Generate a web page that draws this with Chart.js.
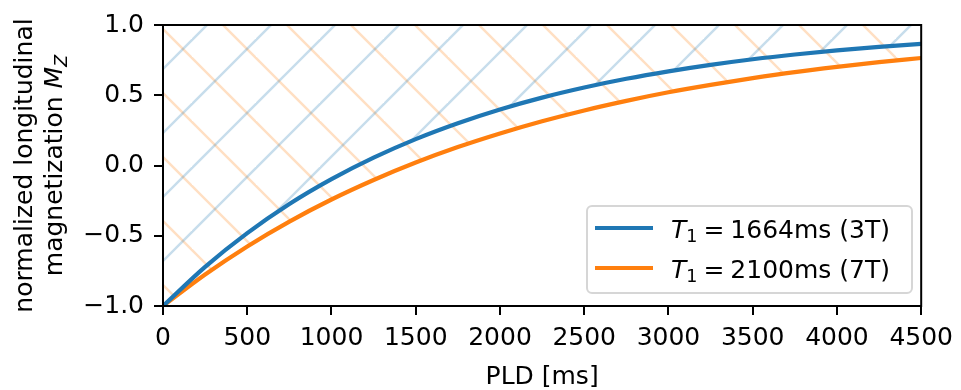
<!DOCTYPE html>
<html>
<head>
<meta charset="utf-8">
<script src="https://cdn.jsdelivr.net/npm/chart.js@4"></script>
<style>
  html, body { margin: 0; padding: 0; background: #fff; }
  #wrap { width: 961px; height: 390px; }
</style>
</head>
<body>
<div id="wrap"><canvas id="mzChart" width="961" height="390"></canvas></div>
<script>
// post-labeling delay [ms]
const pld = [0, 250, 500, 750, 1000, 1250, 1500, 1750, 2000, 2250, 2500,
             2750, 3000, 3250, 3500, 3750, 4000, 4250, 4500];
// normalized Mz recovery at 3T (T1 = 1664 ms)
const mz3T = [-1.0, -0.721, -0.481, -0.274, -0.097, 0.056, 0.188, 0.301, 0.399, 0.483,
              0.555, 0.617, 0.670, 0.716, 0.756, 0.790, 0.819, 0.844, 0.866];
// normalized Mz recovery at 7T (T1 = 2100 ms)
const mz7T = [-1.0, -0.776, -0.576, -0.399, -0.242, -0.103, 0.021, 0.131, 0.228, 0.315,
              0.392, 0.460, 0.521, 0.574, 0.622, 0.665, 0.702, 0.736, 0.765];
const seriesLabels = [["1664", "3T"], ["2100", "7T"]];
const xTicks = [0, 500, 1000, 1500, 2000, 2500, 3000, 3500, 4000, 4500];
const yTicks = [-1.0, -0.5, 0.0, 0.5, 1.0];

const BLUE = '#1f77b4';
const ORANGE = '#ff7f0e';
const FONT = '"DejaVu Sans", "Liberation Sans", sans-serif';

// diagonal hatch tile, dir = 1 for '/', -1 for '\'
function hatch(color, dir, phase) {
  const s = 64;
  const c = document.createElement('canvas');
  c.width = s; c.height = s;
  const g = c.getContext('2d');
  g.strokeStyle = color;
  g.lineWidth = 2.4;
  for (let k = -2; k <= 2; k++) {
    const o = phase + k * s;
    g.beginPath();
    if (dir > 0) { g.moveTo(o + 20, -20); g.lineTo(o - s - 20, s + 20); }
    else { g.moveTo(o - 20, -20); g.lineTo(o + s + 20, s + 20); }
    g.stroke();
  }
  return g.createPattern(c, 'repeat');
}
const blueHatch = hatch('rgba(31,119,180,0.25)', 1, 40);
const orangeHatch = hatch('rgba(255,127,14,0.25)', -1, 6);

// frame, axis titles and legend drawn on top
const decor = {
  id: 'decor',
  afterDraw(chart) {
    const ctx = chart.ctx;
    const a = chart.chartArea;
    ctx.save();
    ctx.strokeStyle = '#000';
    ctx.lineWidth = 2;
    ctx.strokeRect(a.left, a.top, a.right - a.left, a.bottom - a.top);

    ctx.fillStyle = '#000';
    ctx.textBaseline = 'alphabetic';

    // x title
    ctx.font = '25px ' + FONT;
    ctx.textAlign = 'center';
    ctx.fillText('PLD [ms]', (a.left + a.right) / 2, 384);

    // y title, two lines
    const cy = (a.top + a.bottom) / 2;
    ctx.save();
    ctx.translate(32, cy);
    ctx.rotate(-Math.PI / 2);
    ctx.fillText('normalized longitudinal', 0, 0);
    ctx.restore();

    ctx.save();
    ctx.translate(62, cy);
    ctx.rotate(-Math.PI / 2);
    ctx.textAlign = 'left';
    const t1 = 'magnetization ';
    ctx.font = '25px ' + FONT;
    const w1 = ctx.measureText(t1).width;
    ctx.font = 'italic 25px ' + FONT;
    const w2 = ctx.measureText('M').width;
    ctx.font = 'italic 17.5px ' + FONT;
    const w3 = ctx.measureText('Z').width;
    let x = -(w1 + w2 + w3) / 2;
    ctx.font = '25px ' + FONT;
    ctx.fillText(t1, x, 0); x += w1;
    ctx.font = 'italic 25px ' + FONT;
    ctx.fillText('M', x, 0); x += w2;
    ctx.font = 'italic 17.5px ' + FONT;
    ctx.fillText('Z', x, 5);
    ctx.restore();

    // legend
    const lx = 587, ly = 206, lw = 325, lh = 87;
    ctx.beginPath();
    ctx.roundRect(lx, ly, lw, lh, 5);
    ctx.fillStyle = 'rgba(255,255,255,0.8)';
    ctx.fill();
    ctx.strokeStyle = '#d6d6d6';
    ctx.lineWidth = 2;
    ctx.stroke();

    chart.data.datasets.forEach((ds, i) => {
      const y = 228 + i * 40;
      ctx.strokeStyle = ds.borderColor;
      ctx.lineWidth = 4.2;
      ctx.beginPath();
      ctx.moveTo(595, y);
      ctx.lineTo(653, y);
      ctx.stroke();

      const [ms, field] = seriesLabels[i];
      const base = y + 10;
      let tx = 671;
      ctx.fillStyle = '#000';
      ctx.textAlign = 'left';
      ctx.font = 'italic 25px ' + FONT;
      ctx.fillText('T', tx, base);
      tx += ctx.measureText('T').width;
      ctx.font = '17.5px ' + FONT;
      ctx.fillText('1', tx, base + 4);
      tx += ctx.measureText('1').width + 6;
      ctx.font = '25px ' + FONT;
      ctx.fillText('=', tx, base);
      tx += ctx.measureText('=').width + 6;
      ctx.fillText(ms + 'ms (' + field + ')', tx, base);
    });
    ctx.restore();
  }
};

new Chart(document.getElementById('mzChart').getContext('2d'), {
  type: 'line',
  data: {
    labels: pld,
    datasets: [
      {
        label: 'T1 = 1664ms (3T)',
        data: pld.map((t, i) => ({ x: t, y: mz3T[i] })),
        borderColor: BLUE,
        backgroundColor: blueHatch,
        borderWidth: 4.2,
        pointRadius: 0,
        cubicInterpolationMode: 'monotone',
        fill: 'end'
      },
      {
        label: 'T1 = 2100ms (7T)',
        data: pld.map((t, i) => ({ x: t, y: mz7T[i] })),
        borderColor: ORANGE,
        backgroundColor: orangeHatch,
        borderWidth: 4.2,
        pointRadius: 0,
        cubicInterpolationMode: 'monotone',
        fill: 'end'
      }
    ]
  },
  options: {
    responsive: false,
    devicePixelRatio: 1,
    animation: false,
    events: [],
    layout: { padding: { top: 17, right: 35, bottom: 0, left: 0 } },
    plugins: {
      legend: { display: false },
      tooltip: { enabled: false }
    },
    scales: {
      x: {
        type: 'linear',
        min: 0,
        max: 4500,
        afterFit: s => { s.height = 84; },
        afterBuildTicks: s => { s.ticks = xTicks.map(v => ({ value: v })); },
        grid: { drawOnChartArea: false, color: '#000', lineWidth: 2, tickLength: 9 },
        border: { color: '#000', width: 2 },
        ticks: {
          color: '#000',
          padding: 8,
          maxRotation: 0,
          font: { family: FONT, size: 25 },
          callback: v => String(v)
        }
      },
      y: {
        min: -1,
        max: 1,
        afterFit: s => { s.width = 163; },
        afterBuildTicks: s => { s.ticks = yTicks.map(v => ({ value: v })); },
        grid: { drawOnChartArea: false, color: '#000', lineWidth: 2, tickLength: 9 },
        border: { color: '#000', width: 2 },
        ticks: {
          color: '#000',
          padding: 10,
          font: { family: FONT, size: 25 },
          callback: v => (v < 0 ? '\u2212' : '') + Math.abs(v).toFixed(1)
        }
      }
    }
  },
  plugins: [decor]
});
</script>
</body>
</html>
